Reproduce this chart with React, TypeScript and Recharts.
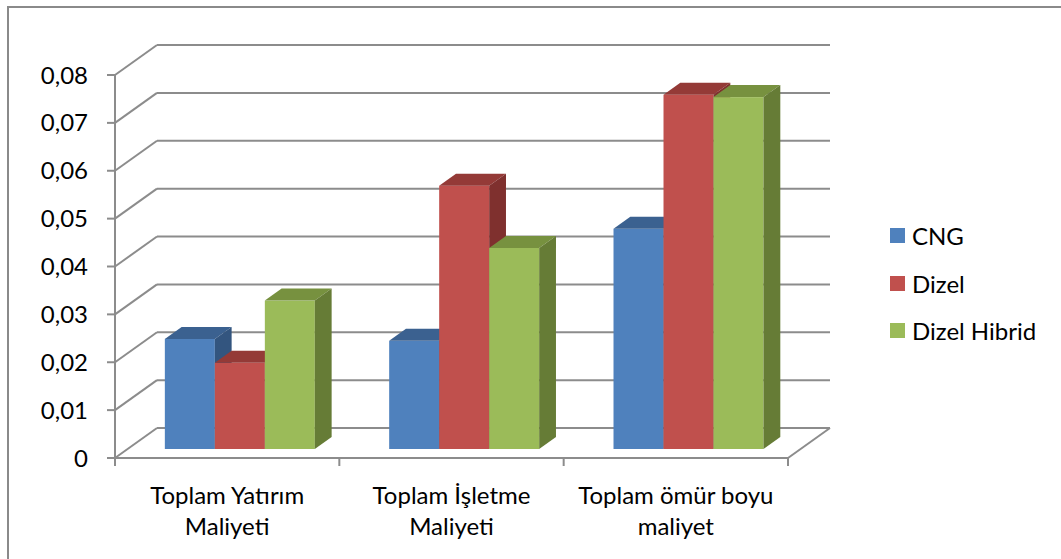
import React from 'react';
import { BarChart, Bar, XAxis, YAxis, CartesianGrid, Legend } from 'recharts';

const categories = ['Toplam Yatırım\nMaliyeti', 'Toplam İşletme\nMaliyeti', 'Toplam ömür boyu\nmaliyet'];
const cng = [0.023, 0.0226, 0.046];
const dizel = [0.018, 0.055, 0.074];
const hibrid = [0.031, 0.042, 0.0735];
const yTicks = [0, 0.01, 0.02, 0.03, 0.04, 0.05, 0.06, 0.07, 0.08];

const data = categories.map((c, i) => ({ name: c, cng: cng[i], dizel: dizel[i], hibrid: hibrid[i] }));

const FONT = 'Lato, "Open Sans", sans-serif';
const LINE = '#8c8c8c';
// full depth of the 3d floor / wall
const DX = 42;
const DY = -30;

const Box3D = (props: any) => {
  const { x, y, width, height, fill, topFill, sideFill } = props;
  const fx = x + DX * 0.3;
  const fy = y + DY * 0.3;
  const dx = DX * 0.4;
  const dy = DY * 0.4;
  return (
    <g>
      <rect x={fx} y={fy} width={width} height={height} fill={fill} />
      <polygon
        points={`${fx},${fy} ${fx + width},${fy} ${fx + width + dx},${fy + dy} ${fx + dx},${fy + dy}`}
        fill={topFill}
      />
      <polygon
        points={`${fx + width},${fy} ${fx + width + dx},${fy + dy} ${fx + width + dx},${fy + height + dy} ${fx + width},${fy + height}`}
        fill={sideFill}
      />
    </g>
  );
};

const GridLine = (props: any) => {
  const { x1, y1, x2, y, height } = props;
  const isFloor = Math.abs(y1 - (y + height)) < 1;
  return (
    <g>
      <line x1={x1} y1={y1} x2={x1 + DX} y2={y1 + DY} stroke={LINE} strokeWidth={2} />
      <line x1={x1 + DX} y1={y1 + DY} x2={x2 + DX} y2={y1 + DY} stroke={LINE} strokeWidth={2} />
      {isFloor && <line x1={x2} y1={y1} x2={x2 + DX} y2={y1 + DY} stroke={LINE} strokeWidth={2} />}
    </g>
  );
};

const CategoryTick = (props: any) => {
  const { x, y, payload, index, visibleTicksCount } = props;
  const half = payload.offset || 0;
  const lines = String(payload.value).split('\n');
  const last = index === visibleTicksCount - 1;
  return (
    <g>
      <line x1={x - half} y1={y} x2={x - half} y2={y + 8} stroke={LINE} strokeWidth={2} />
      {last && <line x1={x + half} y1={y} x2={x + half} y2={y + 8} stroke={LINE} strokeWidth={2} />}
      <text x={x} y={y} textAnchor="middle" fontFamily={FONT} fontSize={24} fill="#000">
        {lines.map((l, i) => (
          <tspan key={i} x={x} dy={i === 0 ? 46 : 31}>{l}</tspan>
        ))}
      </text>
    </g>
  );
};

const LegendBox = (props: any) => {
  const { payload } = props;
  return (
    <div style={{ fontFamily: FONT, fontSize: 24, color: '#000' }}>
      {(payload || []).map((p: any) => (
        <div key={p.value} style={{ display: 'flex', alignItems: 'center', height: 47.5 }}>
          <span style={{ width: 15, height: 15, background: p.color, marginRight: 7, display: 'inline-block' }} />
          <span>{p.value}</span>
        </div>
      ))}
    </div>
  );
};

const fmt = (v: number) => (v === 0 ? '0' : v.toFixed(2).replace('.', ','));

export default function App() {
  return (
    <div style={{ position: 'relative', width: 1052, height: 551 }}>
      <BarChart
        width={1052}
        height={551}
        data={data}
        margin={{ top: 67, right: 272, bottom: 0, left: 0 }}
        barGap={0}
        barCategoryGap="16.6%"
      >
        <CartesianGrid horizontal={(p: any) => <GridLine {...p} />} vertical={false} />
        <XAxis
          dataKey="name"
          height={101}
          interval={0}
          tickSize={0}
          tickMargin={0}
          axisLine={{ stroke: LINE, strokeWidth: 2 }}
          tickLine={false}
          tick={(p: any) => <CategoryTick {...p} />}
        />
        <YAxis
          width={107}
          domain={[0, 0.08]}
          ticks={yTicks}
          interval={0}
          tickFormatter={fmt}
          tickSize={8}
          tickMargin={19}
          axisLine={{ stroke: LINE, strokeWidth: 2 }}
          tickLine={{ stroke: LINE, strokeWidth: 2 }}
          tick={{ fontFamily: FONT, fontSize: 24, fill: '#000' }}
        />
        <Legend
          layout="vertical"
          align="center"
          verticalAlign="middle"
          content={(p: any) => <LegendBox {...p} />}
          wrapperStyle={{ left: 882, top: 204, width: 170 }}
        />
        <Bar dataKey="cng" name="CNG" fill="#4F81BD" isAnimationActive={false}
          shape={(p: any) => <Box3D {...p} topFill="#3B6190" sideFill="#33557f" />} />
        <Bar dataKey="dizel" name="Dizel" fill="#C0504D" isAnimationActive={false}
          shape={(p: any) => <Box3D {...p} topFill="#943A37" sideFill="#7F302E" />} />
        <Bar dataKey="hibrid" name="Dizel Hibrid" fill="#9BBB59" isAnimationActive={false}
          shape={(p: any) => <Box3D {...p} topFill="#77913F" sideFill="#667C36" />} />
      </BarChart>
      <div style={{ position: 'fixed', left: 7, top: 6, width: 1060, height: 560, borderTop: '2px solid #8a8a8a', borderLeft: '2px solid #8a8a8a', boxSizing: 'border-box', pointerEvents: 'none' }} />
    </div>
  );
}
